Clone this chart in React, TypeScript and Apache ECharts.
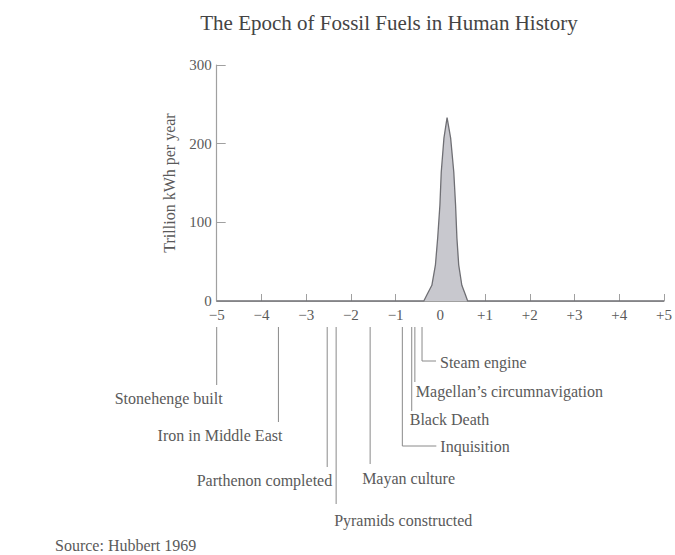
import React, { useEffect, useRef } from "react";
import * as echarts from "echarts";

const TITLE = "The Epoch of Fossil Fuels in Human History";
const SOURCE = "Source: Hubbert 1969";
const Y_NAME = "Trillion kWh per year";

// time in thousands of years from present, production in trillion kWh per year
const curveX = [-5, -0.37, -0.3, -0.19, -0.11, -0.06, -0.01, 0.02, 0.08, 0.15, 0.23, 0.3, 0.34, 0.37, 0.41, 0.48, 0.56, 0.61, 5];
const curveY = [0, 0, 8, 20, 46, 80, 122, 164, 207, 233, 207, 164, 122, 80, 46, 20, 8, 0, 0];

const xTicks = [-5, -4, -3, -2, -1, 0, 1, 2, 3, 4, 5];
const yTicks = [0, 100, 200, 300];

const eventNames = [
  "Stonehenge built",
  "Iron in Middle East",
  "Parthenon completed",
  "Pyramids constructed",
  "Mayan culture",
  "Inquisition",
  "Black Death",
  "Magellan\u2019s circumnavigation",
  "Steam engine",
];
const eventX = [-5.0, -3.62, -2.53, -2.33, -1.57, -0.85, -0.64, -0.57, -0.41];

// layout of annotation leaders (pixels below the axis line)
// kind: r = label right-aligned under line, l = label left-aligned under line, e = elbow to the right
const eventLayout = [
  { kind: "r", end: 84, dx: 6, ly: 97 },
  { kind: "r", end: 121, dx: 4, ly: 134 },
  { kind: "r", end: 166, dx: 5, ly: 179 },
  { kind: "l", end: 203, dx: -2, ly: 219 },
  { kind: "l", end: 163, dx: -8, ly: 177 },
  { kind: "e", end: 145, dx: 34, ly: 145 },
  { kind: "l", end: 110, dx: -2, ly: 118 },
  { kind: "l", end: 81, dx: 1, ly: 90 },
  { kind: "e", end: 60, dx: 14, ly: 61 },
];

const FONT = "'Liberation Serif', 'Times New Roman', serif";
const TEXT = "#5a5a5a";
const LINE = "#a0a0a0";

function fmtX(v: number) {
  if (v < 0) return "\u2212" + Math.abs(v);
  if (v > 0) return "+" + v;
  return "0";
}

export default function App() {
  const ref = useRef<HTMLDivElement>(null);
  useEffect(() => {
    if (!ref.current) return;
    const chart = echarts.init(ref.current, null, { renderer: "svg" });
    const option: any = {
      animation: false,
      backgroundColor: "#fff",
      grid: { left: 216.7, right: 8.3, top: 65, bottom: 254, containLabel: false },
      graphic: [
        {
          type: "text",
          x: 389,
          y: 23,
          style: {
            text: TITLE,
            font: `21px ${FONT}`,
            fill: "#444",
            align: "center",
            textAlign: "center",
            verticalAlign: "middle",
            textVerticalAlign: "middle",
          },
        },
        {
          type: "text",
          x: 55,
          y: 545,
          style: {
            text: SOURCE,
            font: `16px ${FONT}`,
            fill: TEXT,
            align: "left",
            textAlign: "left",
            verticalAlign: "middle",
            textVerticalAlign: "middle",
          },
        },
      ],
      xAxis: {
        type: "value",
        min: xTicks[0],
        max: xTicks[xTicks.length - 1],
        interval: 1,
        axisLine: { show: true, onZero: false, lineStyle: { color: LINE, width: 1.2 } },
        axisTick: { show: true, inside: true, length: 7, lineStyle: { color: LINE } },
        axisLabel: {
          formatter: (v: number) => fmtX(v),
          color: TEXT,
          fontFamily: FONT,
          fontSize: 15,
          margin: 6,
        },
        splitLine: { show: false },
      },
      yAxis: {
        type: "value",
        min: yTicks[0],
        max: yTicks[yTicks.length - 1],
        interval: 100,
        name: Y_NAME,
        nameLocation: "middle",
        nameGap: 39,
        nameTextStyle: { color: TEXT, fontFamily: FONT, fontSize: 16 },
        axisLine: { show: true, onZero: false, lineStyle: { color: LINE, width: 1.2 } },
        axisTick: { show: true, inside: true, length: 9, lineStyle: { color: LINE } },
        axisLabel: { color: TEXT, fontFamily: FONT, fontSize: 15, margin: 5 },
        splitLine: { show: false },
      },
      series: [
        {
          type: "line",
          data: curveX.map((x, i) => [x, curveY[i]]),
          symbol: "none",
          smooth: false,
          lineStyle: { color: "#6f6f74", width: 1.3 },
          areaStyle: { color: "#c8c8ce", opacity: 1 },
          z: 3,
        },
        {
          type: "custom",
          clip: false,
          data: eventX.map((x, i) => [x, i, 0]),
          encode: { x: 0, y: 2 },
          z: 4,
          renderItem: (params: any, api: any) => {
            const idx = api.value(1);
            const p = api.coord([api.value(0), 0]);
            const lx = p[0];
            const base = p[1];
            const lay = eventLayout[idx];
            const top = base + 26;
            const children: any[] = [];
            const ls = { stroke: "#8a8a8a", lineWidth: 1 };
            let tx = lx + lay.dx;
            let align = lay.kind === "r" ? "right" : "left";
            if (lay.kind === "e") {
              children.push({
                type: "polyline",
                shape: { points: [[lx, top], [lx, base + lay.end], [lx + lay.dx, base + lay.end]] },
                style: { ...ls, fill: null },
              });
              tx = lx + lay.dx + 4;
            } else {
              children.push({
                type: "line",
                shape: { x1: lx, y1: top, x2: lx, y2: base + lay.end },
                style: ls,
              });
            }
            children.push({
              type: "text",
              style: {
                text: eventNames[idx],
                x: tx,
                y: base + lay.ly,
                font: `16px ${FONT}`,
                fill: TEXT,
                align,
                textAlign: align,
                verticalAlign: "middle",
                textVerticalAlign: "middle",
              },
            });
            return { type: "group", children };
          },
        },
      ],
    };
    chart.setOption(option);
    return () => chart.dispose();
  }, []);
  return (
    <div
      ref={ref}
      style={{ position: "absolute", left: 0, top: 0, width: 675, height: 555 }}
    />
  );
}
